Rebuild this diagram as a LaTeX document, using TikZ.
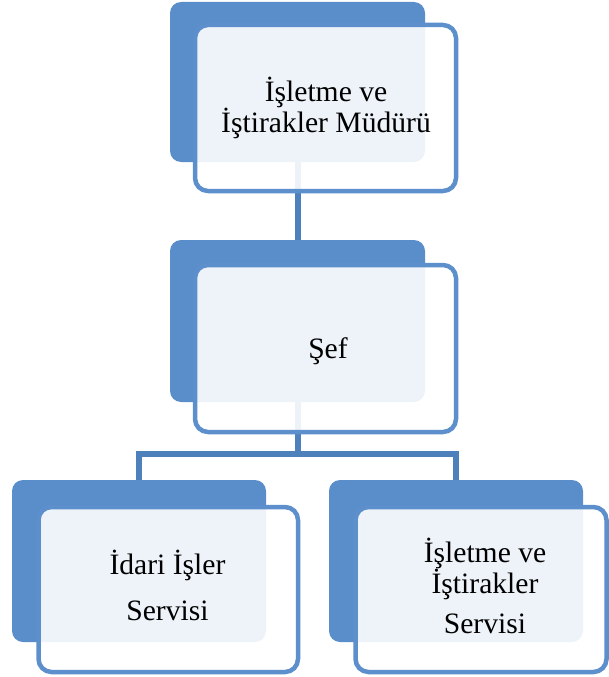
\documentclass[tikz,border=0pt]{standalone}
\usepackage{fontspec}
\setmainfont{Liberation Serif}
\definecolor{backblue}{RGB}{90,142,203}
\definecolor{edgeblue}{RGB}{92,143,203}
\definecolor{connblue}{RGB}{78,128,187}
\tikzset{
  backbox/.style={rectangle, fill=backblue, rounded corners=11pt, inner sep=0pt, outer sep=0pt},
  frontbox/.style={rectangle, draw=edgeblue, line width=4.5pt, fill=white, fill opacity=0.9, draw opacity=1, rounded corners=13pt, inner sep=0pt},
  label/.style={font=\fontsize{29.6}{30}\selectfont, align=center, inner sep=0pt, text=black},
  conn/.style={draw=connblue, line width=6pt}
}
\begin{document}
\begin{tikzpicture}[x=1pt,y=-1pt]
\useasboundingbox (0,0) rectangle (608,677);
% back boxes
\node[backbox, minimum width=255pt, minimum height=160pt] (d1) at (297.5,82) {};
\node[backbox, minimum width=255pt, minimum height=162pt] (d2) at (297.5,321) {};
\node[backbox, minimum width=254pt, minimum height=162pt] (d3) at (139,561) {};
\node[backbox, minimum width=254pt, minimum height=162pt] (d4) at (456,561) {};
% connectors
\coordinate (j) at (297.5,454);
\draw[conn] (d1.south) -- (d2.north);
\draw[conn] (d2.south) -- (j);
\draw[conn] (d3.north) |- (j) -| (d4.north);
% front boxes
\node[frontbox, minimum width=261pt, minimum height=166pt] (f1) at (325.5,108) {};
\node[frontbox, minimum width=261pt, minimum height=167pt] (f2) at (325.5,348.5) {};
\node[frontbox, minimum width=259.5pt, minimum height=165pt] (f3) at (168.25,589.5) {};
\node[frontbox, minimum width=251pt, minimum height=165pt] (f4) at (481,589.5) {};
% labels
\node[label] (t1) at (326,108) {İşletme ve\\İştirakler Müdürü};
\node[label] (t2) at (328,351) {Şef};
\node[label] (t3) at (167.5,585) {İdari İşler\\[16pt]Servisi};
\node[label] (t4) at (485,586) {İşletme ve\\İştirakler\\[10pt]Servisi};
\end{tikzpicture}
\end{document}
